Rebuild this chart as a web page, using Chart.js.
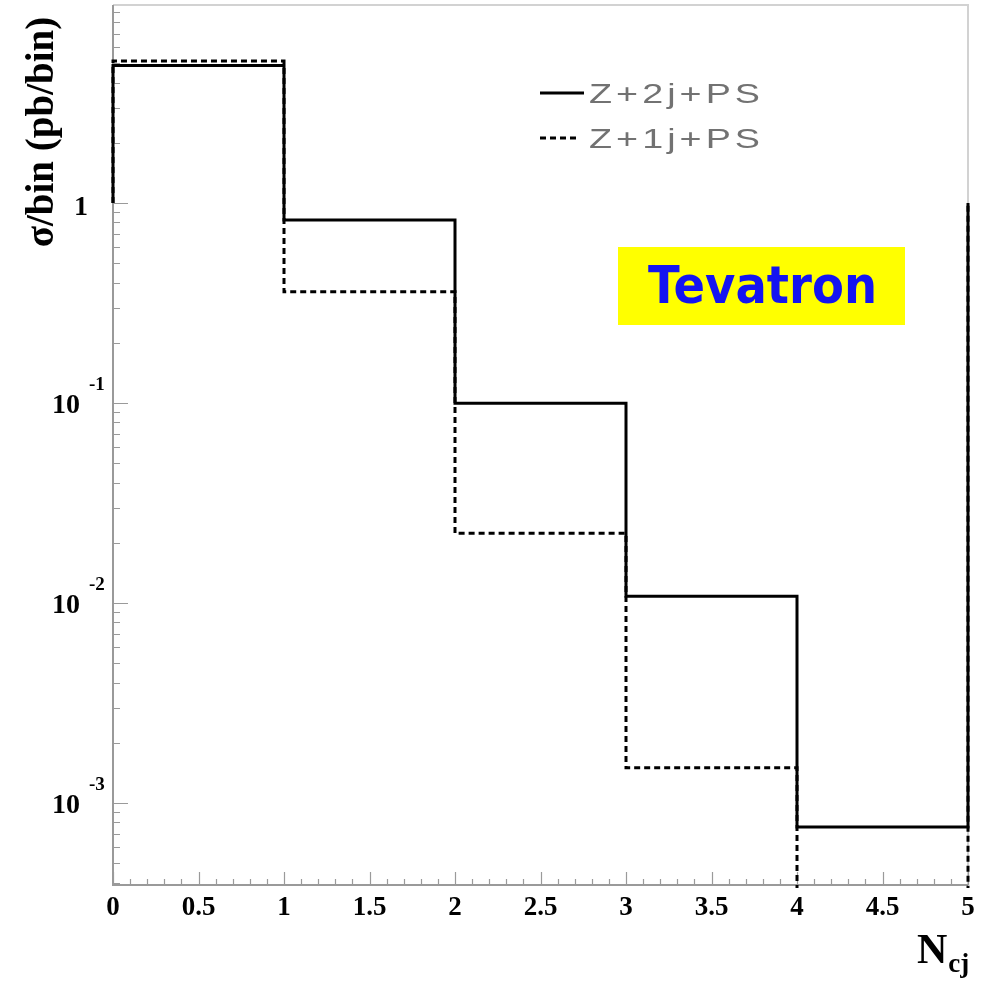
<!DOCTYPE html>
<html>
<head>
<meta charset="utf-8">
<script src="https://cdn.jsdelivr.net/npm/chart.js@4"></script>
<style>
  html, body { margin: 0; padding: 0; background: #ffffff; }
  canvas { display: block; }
</style>
</head>
<body>
<canvas id="c" width="987" height="984"></canvas>
<script>
// Bin edges in number of central jets
const binEdges = [0, 1, 2, 3, 4, 5];
// Cross section per bin (pb/bin)
const z2jValues = [4.87, 0.822, 0.0998, 0.0108, 0.000758];
const z1jValues = [5.13, 0.360, 0.0223, 0.00150, 0.0002];
// Histogram outlines are closed down to this level at both ends
const histBase = 1;

const seriesNames = ['Z+2j+PS', 'Z+1j+PS'];

// Axis tick labels
const xTickValues = [0, 0.5, 1, 1.5, 2, 2.5, 3, 3.5, 4, 4.5, 5];
const xTickLabels = ['0', '0.5', '1', '1.5', '2', '2.5', '3', '3.5', '4', '4.5', '5'];
const yTickValues = [1, 0.1, 0.01, 0.001];
const yTickBases = ['1', '10', '10', '10'];
const yTickExps = ['', '-1', '-2', '-3'];

const yMin = Math.pow(10, -3.41);
const yMax = Math.pow(10, 0.99);

function outline(edges, values, base) {
  const pts = [{ x: edges[0], y: base }];
  values.forEach((v, i) => {
    pts.push({ x: edges[i], y: v });
    pts.push({ x: edges[i + 1], y: v });
  });
  pts.push({ x: edges[edges.length - 1], y: base });
  return pts;
}

const serif = '"Liberation Serif", "Times New Roman", serif';

const decorations = {
  id: 'decorations',
  beforeDatasetsDraw(chart) {
    const ctx = chart.ctx;
    const a = chart.chartArea;
    const xs = chart.scales.x, ys = chart.scales.y;
    ctx.save();
    // frame: top and right in light grey
    ctx.strokeStyle = '#d2d2d2';
    ctx.lineWidth = 2;
    ctx.beginPath();
    ctx.moveTo(a.left, a.top);
    ctx.lineTo(a.right, a.top);
    ctx.lineTo(a.right, a.bottom);
    ctx.stroke();
    // axes
    ctx.strokeStyle = '#9a9a9a';
    ctx.lineWidth = 2;
    ctx.beginPath();
    ctx.moveTo(a.left, a.top);
    ctx.lineTo(a.left, a.bottom);
    ctx.lineTo(a.right, a.bottom);
    ctx.stroke();
    // x ticks (every 0.1, major every 0.5)
    ctx.lineWidth = 1.2;
    ctx.beginPath();
    for (let k = 0; k <= 50; k++) {
      const v = k / 10;
      const px = Math.round(xs.getPixelForValue(v)) + 0.5;
      const len = (k % 5 === 0) ? 13 : 6;
      ctx.moveTo(px, a.bottom);
      ctx.lineTo(px, a.bottom - len);
    }
    // y ticks (log minor ticks, major at decades)
    for (let e = -4; e <= 0; e++) {
      for (let m = 1; m <= 9; m++) {
        const v = m * Math.pow(10, e);
        if (v < yMin || v > yMax) continue;
        const py = Math.round(ys.getPixelForValue(v)) + 0.5;
        const len = (m === 1) ? 15 : 7;
        ctx.moveTo(a.left, py);
        ctx.lineTo(a.left + len, py);
      }
    }
    ctx.stroke();
    ctx.restore();
  },
  afterDraw(chart) {
    const ctx = chart.ctx;
    const xs = chart.scales.x, ys = chart.scales.y;
    ctx.save();
    ctx.fillStyle = '#000';

    // x tick labels
    ctx.font = 'bold 27px ' + serif;
    ctx.textAlign = 'center';
    ctx.textBaseline = 'alphabetic';
    xTickValues.forEach((v, i) => {
      ctx.fillText(xTickLabels[i], xs.getPixelForValue(v), 915);
    });

    // y tick labels with exponents
    yTickValues.forEach((v, i) => {
      const py = ys.getPixelForValue(v);
      ctx.font = 'bold 28px ' + serif;
      ctx.textAlign = 'right';
      if (yTickExps[i] === '') {
        ctx.fillText(yTickBases[i], 88, py + 12);
      } else {
        ctx.fillText(yTickBases[i], 80, py + 10);
        ctx.font = 'bold 19px ' + serif;
        ctx.textAlign = 'left';
        ctx.fillText(yTickExps[i], 89, py - 13);
      }
    });

    // y axis title
    ctx.save();
    ctx.translate(53, 132);
    ctx.rotate(-Math.PI / 2);
    ctx.font = 'bold 39px ' + serif;
    ctx.textAlign = 'center';
    ctx.textBaseline = 'alphabetic';
    ctx.fillText('\u03c3/bin (pb/bin)', 0, 0);
    ctx.restore();

    // x axis title N_cj
    ctx.textAlign = 'left';
    ctx.font = 'bold 42px ' + serif;
    ctx.fillText('N', 917, 963);
    const nW = ctx.measureText('N').width;
    ctx.font = 'bold 27px ' + serif;
    ctx.fillText('cj', 917 + nW + 1, 972);

    // legend
    const ds = chart.data.datasets;
    const rows = [93, 138];
    const spacing = 3;
    ds.forEach((d, i) => {
      ctx.save();
      ctx.strokeStyle = d.borderColor;
      ctx.lineWidth = d.borderWidth;
      ctx.setLineDash(d.borderDash || []);
      ctx.beginPath();
      ctx.moveTo(540, rows[i]);
      ctx.lineTo(i === 0 ? 584 : 578, rows[i]);
      ctx.stroke();
      ctx.restore();

      ctx.save();
      ctx.fillStyle = '#727272';
      ctx.font = '28px "Liberation Sans", Arial, sans-serif';
      ctx.textAlign = 'left';
      ctx.textBaseline = 'alphabetic';
      const plain = ctx.measureText(d.label).width;
      const full = plain + spacing * (d.label.length - 1);
      try { ctx.letterSpacing = spacing + 'px'; } catch (e) {}
      ctx.translate(589, rows[i] + 10);
      ctx.scale(171 / full, 1);
      ctx.fillText(d.label, 0, 0);
      ctx.restore();
    });

    // collider label
    ctx.fillStyle = '#ffff00';
    ctx.fillRect(618, 247, 287, 78);
    ctx.save();
    ctx.fillStyle = '#1414f0';
    ctx.font = 'bold 52px "DejaVu Sans", sans-serif';
    ctx.textAlign = 'center';
    ctx.textBaseline = 'alphabetic';
    const tw = ctx.measureText('Tevatron').width;
    ctx.translate(762.5, 303);
    ctx.scale(229 / tw, 1);
    ctx.fillText('Tevatron', 0, 0);
    ctx.restore();

    ctx.restore();
  }
};

new Chart(document.getElementById('c'), {
  type: 'scatter',
  data: {
    datasets: [
      {
        label: seriesNames[0],
        data: outline(binEdges, z2jValues, histBase),
        showLine: true,
        borderColor: '#000000',
        borderWidth: 3,
        pointRadius: 0,
        fill: false,
        tension: 0,
        clip: 3,
        order: 0
      },
      {
        label: seriesNames[1],
        data: outline(binEdges, z1jValues, histBase),
        showLine: true,
        borderColor: '#000000',
        borderWidth: 3,
        borderDash: [6, 4],
        pointRadius: 0,
        fill: false,
        tension: 0,
        clip: 3,
        order: 1
      }
    ]
  },
  options: {
    responsive: false,
    animation: false,
    layout: { padding: { left: 113, top: 5, right: 19, bottom: 99 } },
    plugins: { legend: { display: false }, tooltip: { enabled: false } },
    scales: {
      x: { type: 'linear', min: 0, max: 5, display: false },
      y: { type: 'logarithmic', min: yMin, max: yMax, display: false }
    }
  },
  plugins: [decorations]
});
</script>
</body>
</html>
